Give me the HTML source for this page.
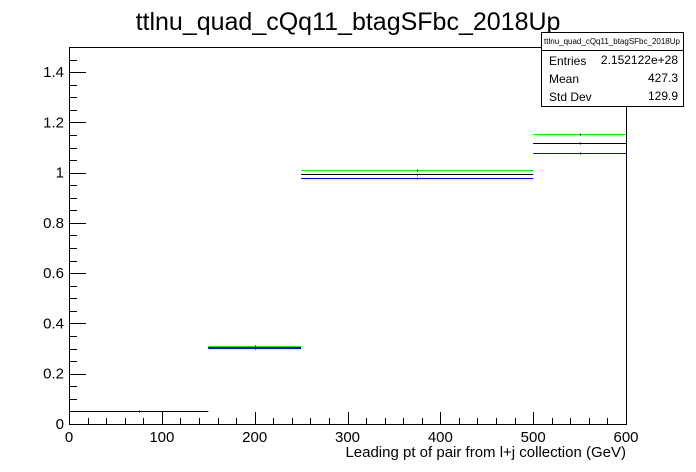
<!DOCTYPE html>
<html><head><meta charset="utf-8"><style>
body{margin:0;background:#fff;}
svg{display:block;font-family:"Liberation Sans",Arial,sans-serif;}
</style></head><body>
<svg id="c" width="696" height="472">
<text x="348" y="30" font-size="25" text-anchor="middle">ttlnu_quad_cQq11_btagSFbc_2018Up</text>
<g id="plot"></g>
<text x="626" y="457" font-size="15" text-anchor="end">Leading pt of pair from l+j collection (GeV)</text>
<g>
<rect x="541.5" y="32.5" width="142" height="74" fill="#fff" stroke="#000"/>
<line x1="541.5" y1="50.5" x2="683.5" y2="50.5" stroke="#000"/>
<text x="612" y="44" font-size="8" text-anchor="middle">ttlnu_quad_cQq11_btagSFbc_2018Up</text>
<text x="549" y="65" font-size="12">Entries</text><text x="678" y="64" font-size="12" text-anchor="end">2.152122e+28</text>
<text x="549" y="83" font-size="12">Mean</text><text x="678" y="82" font-size="12" text-anchor="end">427.3</text>
<text x="549" y="101" font-size="12">Std Dev</text><text x="678" y="100" font-size="12" text-anchor="end">129.9</text>
</g>
</svg>
<script>
const binEdges=[0,150,250,500,600];
const seriesGreen=[0.052,0.311,1.012,1.155];
const seriesBlack=[0.050,0.306,0.996,1.120];
const seriesBlue=[0.050,0.303,0.980,1.080];
const xTicks=[0,100,200,300,400,500,600];
const yTicks=[0,0.2,0.4,0.6,0.8,1,1.2,1.4];
const yTickLabels=["0","0.2","0.4","0.6","0.8","1","1.2","1.4"];
const X0=69,X1=626,Y0=424,Y1=47;
const xs=v=>X0+(v-0)/(600-0)*(X1-X0);
const ys=v=>Y0-(v-0)/(1.5-0)*(Y0-Y1);
const NS="http://www.w3.org/2000/svg";
const g=document.getElementById('plot');
function mk(t,a){const e=document.createElementNS(NS,t);for(const k in a)e.setAttribute(k,a[k]);g.appendChild(e);return e;}
const frame=mk('rect',{x:X0+0.5,y:Y1+0.5,width:X1-X0,height:Y0-Y1,fill:'none',stroke:'#000'});


for(let v=0;v<=1.5001;v+=0.05){const y=Math.round(ys(v))+0.5;const major=Math.abs(v/0.2-Math.round(v/0.2))<1e-6;
const t=mk('line',{x1:X0,y1:y,x2:X0+(major?17:8),y2:y,stroke:'#000'});

}
yTicks.forEach((v,i)=>{const t=mk('text',{x:X0-5,y:ys(v)+5,'font-size':15,'text-anchor':'end'});t.textContent=yTickLabels[i];

});
for(let v=0;v<=600.001;v+=20){const x=Math.round(xs(v))+0.5;const major=Math.abs(v%100)<1e-6;
const t=mk('line',{x1:x,y1:Y0,x2:x,y2:Y0-(major?12:6),stroke:'#000'});

}
xTicks.forEach(v=>{const t=mk('text',{x:xs(v),y:Y0+18,'font-size':15,'text-anchor':'middle'});t.textContent=String(v);

});
function seg(v,i,color,name){const y=Math.round(ys(v))+0.5;
const l=mk('line',{x1:xs(binEdges[i]),y1:y,x2:xs(binEdges[i+1]),y2:y,stroke:color,'stroke-width':1});


const cx=Math.round(xs((binEdges[i]+binEdges[i+1])/2))+0.5;
const e=mk('line',{x1:cx,y1:y-1,x2:cx,y2:y+1,stroke:'#000'});

}
binEdges.slice(0,-1).forEach((_,i)=>{
  if(i===0){seg(seriesBlue[i],i,'#0000ff','blue-series');seg(seriesGreen[i],i,'#00ff00','green-series');seg(seriesBlack[i],i,'#000000','black-series');}
  else{seg(seriesBlue[i],i,'#0000ff','blue-series');seg(seriesBlack[i],i,'#000000','black-series');seg(seriesGreen[i],i,'#00ff00','green-series');}
});
</script>
</body></html>
